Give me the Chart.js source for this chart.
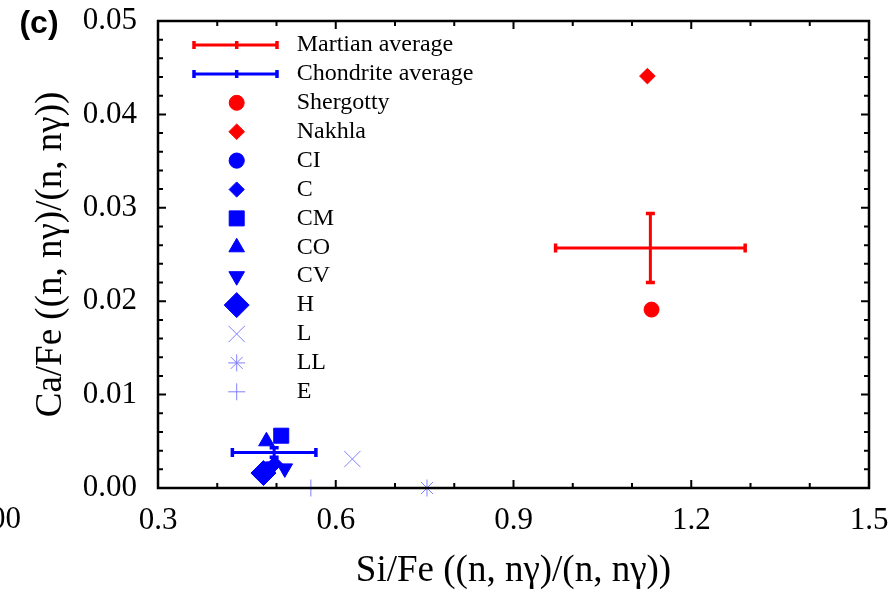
<!DOCTYPE html>
<html>
<head>
<meta charset="utf-8">
<script src="https://cdn.jsdelivr.net/npm/chart.js@4.4.0/dist/chart.umd.min.js"></script>
<style>
  html, body { margin: 0; padding: 0; background: #fff; }
  #wrap { width: 893px; height: 592px; }
</style>
</head>
<body>
<div id="wrap"><canvas id="myChart" width="893" height="592"></canvas></div>
<script>
// SCATTER CHART: Ca/Fe vs Si/Fe

// data
const groupNames = ['Shergotty', 'Nakhla', 'CI', 'C', 'CM', 'CO', 'CV', 'H', 'L', 'LL', 'E'];
const siFe = [1.133, 1.126, 0.485, 0.497, 0.508, 0.483, 0.514, 0.478, 0.628, 0.754, 0.558];
const caFe = [0.0191, 0.0441, 0.0020, 0.0026, 0.0056, 0.0050, 0.0021, 0.0016, 0.0031, 0.0, 0.0];

const avgNames = ['Martian average', 'Chondrite average'];
const avgSiFe = [1.131, 0.496];
const avgSiFeErr = [0.160, 0.0705];
const avgCaFe = [0.0257, 0.0038];
const avgCaFeErr = [0.0037, 0.0005];

const xTicks = [0.3, 0.6, 0.9, 1.2, 1.5];
const yTicks = [0.00, 0.01, 0.02, 0.03, 0.04, 0.05];

// marker styles
const RED = '#ff0000', BLUE = '#0000ff', LIGHT = '#8080ff';
const groupColors = [RED, RED, BLUE, BLUE, BLUE, BLUE, BLUE, BLUE, LIGHT, LIGHT, LIGHT];
const groupStyles = ['circle', 'rectRot', 'circle', 'rectRot', 'rect', 'triangle', 'triangle', 'rectRot', 'crossRot', 'star', 'cross'];
const groupRotation = [0, 0, 0, 0, 0, 0, 180, 0, 0, 0, 0];
const groupRadius = [7.5, 7.8, 7.6, 7.6, 10.6, 9, 9, 12.5, 11.5, 8.5, 8.5];
const avgColors = [RED, BLUE];

const SERIF = "'Liberation Serif', 'Times New Roman', serif";

const datasets = groupNames.map((name, i) => ({
    label: name,
    data: [{ x: siFe[i], y: caFe[i] }],
    pointStyle: groupStyles[i],
    pointRotation: groupRotation[i],
    pointRadius: groupRadius[i],
    backgroundColor: groupColors[i],
    borderColor: groupColors[i],
    pointBorderWidth: 1,
    clip: false
}));

// error bars, frame with inward ticks, legend, panel label
const extras = {
    id: 'extras',
    afterDatasetsDraw(chart) {
        const ctx = chart.ctx;
        const xs = chart.scales.x, ys = chart.scales.y;
        const area = chart.chartArea;

        function errBar(x, y, ex, ey, color) {
            const px = xs.getPixelForValue(x), py = ys.getPixelForValue(y);
            const x1 = xs.getPixelForValue(x - ex), x2 = xs.getPixelForValue(x + ex);
            const y1 = ys.getPixelForValue(y + ey), y2 = ys.getPixelForValue(y - ey);
            ctx.save();
            ctx.strokeStyle = color;
            ctx.lineWidth = 3;
            ctx.beginPath();
            ctx.moveTo(x1, py); ctx.lineTo(x2, py);
            ctx.moveTo(px, y1); ctx.lineTo(px, y2);
            ctx.stroke();
            ctx.lineWidth = 3.5;
            ctx.beginPath();
            ctx.moveTo(x1, py - 4.5); ctx.lineTo(x1, py + 4.5);
            ctx.moveTo(x2, py - 4.5); ctx.lineTo(x2, py + 4.5);
            ctx.moveTo(px - 4.5, y1); ctx.lineTo(px + 4.5, y1);
            ctx.moveTo(px - 4.5, y2); ctx.lineTo(px + 4.5, y2);
            ctx.stroke();
            ctx.restore();
        }
        avgNames.forEach((n, i) => errBar(avgSiFe[i], avgCaFe[i], avgSiFeErr[i], avgCaFeErr[i], avgColors[i]));

        // frame
        ctx.save();
        ctx.strokeStyle = '#000';
        ctx.lineWidth = 2.5;
        ctx.strokeRect(area.left, area.top, area.right - area.left, area.bottom - area.top);
        ctx.lineWidth = 2;
        ctx.beginPath();
        for (let i = 0; i <= 12; i++) {
            const px = xs.getPixelForValue(0.3 + i * 0.1);
            const len = i % 3 === 0 ? 8 : 5;
            ctx.moveTo(px, area.bottom); ctx.lineTo(px, area.bottom - len);
            ctx.moveTo(px, area.top); ctx.lineTo(px, area.top + len);
        }
        for (let i = 0; i <= 25; i++) {
            const py = ys.getPixelForValue(i * 0.002);
            const len = i % 5 === 0 ? 8 : 5;
            ctx.moveTo(area.left, py); ctx.lineTo(area.left + len, py);
            ctx.moveTo(area.right, py); ctx.lineTo(area.right - len, py);
        }
        ctx.stroke();
        ctx.restore();

        // legend
        const rowY0 = area.top + 24, rowStep = 28.9;
        const markX = area.left + 78.7, textX = area.left + 138.7;
        ctx.save();
        ctx.font = '24px ' + SERIF;
        ctx.textBaseline = 'middle';
        ctx.textAlign = 'left';
        let row = 0;
        avgNames.forEach((n, i) => {
            const y = rowY0 + row * rowStep;
            ctx.strokeStyle = avgColors[i];
            ctx.lineWidth = 3;
            ctx.beginPath();
            ctx.moveTo(area.left + 36, y); ctx.lineTo(area.left + 119, y);
            ctx.stroke();
            ctx.lineWidth = 3.5;
            ctx.beginPath();
            [area.left + 36, markX, area.left + 119].forEach(bx => {
                ctx.moveTo(bx, y - 4); ctx.lineTo(bx, y + 4);
            });
            ctx.stroke();
            ctx.fillStyle = '#000';
            ctx.fillText(n, textX, y);
            row++;
        });
        groupNames.forEach((n, i) => {
            const y = rowY0 + row * rowStep;
            ctx.fillStyle = groupColors[i];
            ctx.strokeStyle = groupColors[i];
            ctx.lineWidth = 1;
            Chart.helpers.drawPoint(ctx, {
                pointStyle: groupStyles[i],
                rotation: groupRotation[i],
                radius: groupRadius[i],
                borderWidth: 1
            }, markX, y);
            ctx.fillStyle = '#000';
            ctx.fillText(n, textX, y);
            row++;
        });

        // panel label and cut-off neighbour label
        ctx.font = 'bold 32px "Liberation Sans", Arial, sans-serif';
        ctx.textAlign = 'center';
        ctx.fillText('(c)', 39, 24);
        ctx.font = '31px ' + SERIF;
        ctx.textAlign = 'right';
        ctx.fillText('00', 21, 520);
        ctx.restore();
    }
};

// stop tick-label overhang from pushing the plot area around
function noPad(s) {
    s.paddingTop = 0; s.paddingBottom = 0; s.paddingLeft = 0; s.paddingRight = 0;
}

const ctx = document.getElementById('myChart').getContext('2d');

const myChart = new Chart(ctx, {
    type: 'scatter',
    data: { datasets: datasets },
    options: {
        responsive: false,
        animation: false,
        devicePixelRatio: 1,
        events: [],
        layout: { padding: { left: 0, top: 21, right: 24, bottom: 0 } },
        plugins: {
            legend: { display: false },
            tooltip: { enabled: false }
        },
        scales: {
            x: {
                type: 'linear',
                min: 0.3,
                max: 1.5,
                grid: { display: false, drawTicks: false },
                border: { display: false },
                afterBuildTicks: s => { s.ticks = xTicks.map(v => ({ value: v })); },
                afterFit: s => { s.height = 104; noPad(s); },
                ticks: {
                    color: '#000',
                    font: { family: SERIF, size: 31 },
                    padding: 14,
                    maxRotation: 0,
                    autoSkip: false,
                    callback: v => v.toFixed(1)
                },
                title: {
                    display: true,
                    text: 'Si/Fe ((n, nγ)/(n, nγ))',
                    color: '#000',
                    font: { family: SERIF, size: 37, lineHeight: 1 },
                    padding: { top: 0, bottom: 2 }
                }
            },
            y: {
                type: 'linear',
                min: 0,
                max: 0.05,
                grid: { display: false, drawTicks: false },
                border: { display: false },
                afterBuildTicks: s => { s.ticks = yTicks.map(v => ({ value: v })); },
                afterFit: s => { s.width = 158; noPad(s); },
                ticks: {
                    color: '#000',
                    font: { family: SERIF, size: 31 },
                    padding: 21,
                    autoSkip: false,
                    callback: v => v.toFixed(2)
                },
                title: {
                    display: true,
                    text: 'Ca/Fe ((n, nγ)/(n, nγ))',
                    color: '#000',
                    font: { family: SERIF, size: 37, lineHeight: 1 },
                    padding: { top: 33, bottom: 0 }
                }
            }
        }
    },
    plugins: [extras]
});

console.log('chart loaded');
</script>
</body>
</html>
